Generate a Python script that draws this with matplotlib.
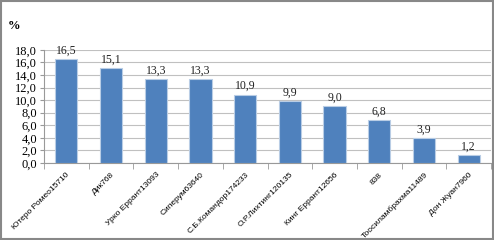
import matplotlib
matplotlib.use('Agg')
import matplotlib.pyplot as plt
from matplotlib.patches import Rectangle

# chart data
names = ['Ютеро Ромео15710', 'Дик768', 'Урко Еррант13093', 'Сиперум63640',
         'С.Б.Командор174233', 'О.Р.Лихтинг120135', 'Кинг Еррант12656', '838',
         'Тоосиламбрахма11489', 'Дон Жуан7960']
values = [16.5, 15.1, 13.3, 13.3, 10.9, 9.9, 9.0, 6.8, 3.9, 1.2]
yticks = [0, 2, 4, 6, 8, 10, 12, 14, 16, 18]

serif = 'Liberation Serif'
sans = 'Liberation Sans'

fig = plt.figure(figsize=(4.94, 2.40), dpi=100)
ax = fig.add_axes([0.089, 0.321, 0.905, 0.471])

x = list(range(len(names)))
ax.bar(x, values, width=0.5, color='#4f81bd', edgecolor='#b9cde5', linewidth=0.8, zorder=3)

# value labels over bars
for i, v in enumerate(values):
    ax.text(i, v + 0.4, f'{v:.1f}'.replace('.', ','), ha='center', va='bottom',
            fontsize=8.5, family=serif, color='#222222')

ax.set_xlim(-0.5, len(names) - 0.5)
ax.set_ylim(0, 18)
ax.set_yticks(yticks)
ax.set_yticklabels([f'{t:.1f}'.replace('.', ',') for t in yticks], family=serif, fontsize=9)
ax.yaxis.grid(True, color='#c0c0c0', linewidth=0.8, zorder=0)

ax.set_xticks(x)
ax.set_xticklabels(names, rotation=45, ha='right', rotation_mode='anchor',
                   family=sans, fontsize=6)
ax.tick_params(axis='x', length=0, pad=6)
ax.set_xticks([i - 0.5 for i in range(len(names) + 1)], minor=True)
ax.tick_params(axis='x', which='minor', length=4, color='#999999')
ax.tick_params(axis='y', length=3, color='#999999', pad=2)

for s in ['top', 'right']:
    ax.spines[s].set_visible(False)
ax.spines['left'].set_color('#999999')
ax.spines['bottom'].set_color('#999999')

fig.text(0.016, 0.88, '%', family=serif, fontsize=9, fontweight='bold')

# outer frame
fig.patches.append(Rectangle((0.002, 0.004), 0.996, 0.992, transform=fig.transFigure,
                             fill=False, edgecolor='#888888', linewidth=1.5))

fig.savefig('out.png', dpi=100)
